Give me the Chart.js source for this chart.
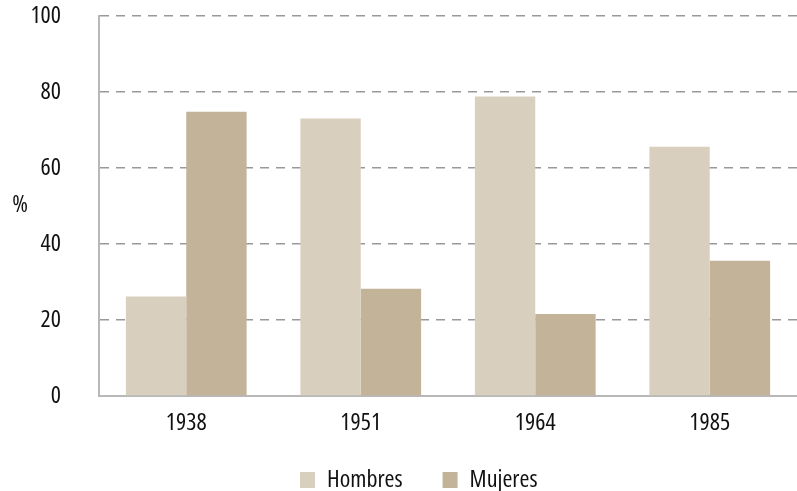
<!DOCTYPE html>
<html>
<head>
<meta charset="utf-8">
<script src="https://cdn.jsdelivr.net/npm/chart.js@4"></script>
<style>
  html, body { margin: 0; padding: 0; background: #ffffff; }
  #wrap { width: 797px; height: 491px; position: relative; }
</style>
</head>
<body>
<div id="wrap"><canvas id="c" width="797" height="491"></canvas></div>
<script>
const categories = ['1938', '1951', '1964', '1985'];
const hombres = [26.2, 73.0, 78.8, 65.6];
const mujeres = [74.8, 28.2, 21.6, 35.6];
const yTicks = [0, 20, 40, 60, 80, 100];
const seriesNames = ['Hombres', 'Mujeres'];
const yUnit = '%';

const FONT = "'Open Sans', 'Roboto Condensed', sans-serif";
const FWEIGHT = '400 condensed';
const FSIZE = 24;
const TXT = '#111111';

const percentLabel = {
  id: 'percentLabel',
  afterDraw(chart) {
    const ctx = chart.ctx;
    const a = chart.chartArea;
    ctx.save();
    ctx.font = FWEIGHT + ' ' + FSIZE + 'px ' + FONT;
    ctx.fillStyle = TXT;
    ctx.textAlign = 'center';
    ctx.textBaseline = 'middle';
    ctx.fillText(yUnit, 20, (a.top + a.bottom) / 2 - 1);
    ctx.restore();
  }
};

const legendShift = {
  id: 'legendShift',
  afterLayout(chart) {
    const l = chart.legend;
    if (!l || !l.lineWidths) return;
    const pad = l.options.labels.padding;
    const cur = (l.left + pad + l.right - l.lineWidths[0]) / 2;
    const d = 300 - cur;
    l.left += d; l.right += d;
    l.top = 428; l.bottom = chart.height; l.height = l.bottom - l.top;
  }
};

new Chart(document.getElementById('c'), {
  type: 'bar',
  data: {
    labels: categories,
    datasets: [
      { label: seriesNames[0], data: hombres, backgroundColor: '#d9cfbe', borderWidth: 0,
        categoryPercentage: 0.692, barPercentage: 1.0 },
      { label: seriesNames[1], data: mujeres, backgroundColor: '#c2b399', borderWidth: 0,
        categoryPercentage: 0.692, barPercentage: 1.0 }
    ]
  },
  options: {
    responsive: false,
    animation: false,
    devicePixelRatio: 1,
    layout: { padding: { top: 16, left: 0, right: -7, bottom: 0 } },
    plugins: {
      tooltip: { enabled: false },
      legend: {
        position: 'bottom',
        maxHeight: 55,
        labels: {
          boxWidth: 15, boxHeight: 16, padding: 40,
          color: TXT,
          font: { family: FONT, size: FSIZE, weight: FWEIGHT }
        }
      }
    },
    scales: {
      x: {
        z: 1,
        afterFit(s) { s.height = 40; },
        grid: { display: false, drawTicks: false },
        border: { display: true, color: '#b8b8b8', width: 2 },
        ticks: { color: TXT, padding: 13, font: { family: FONT, size: FSIZE, weight: FWEIGHT } }
      },
      y: {
        z: 1,
        min: 0, max: 100,
        afterFit(s) { s.width = 99; s.paddingTop = 10; s.paddingBottom = 10; },
        afterBuildTicks(s) { s.ticks = yTicks.map(v => ({ value: v })); },
        grid: {
          drawTicks: false,
          lineWidth: 1.5,
          color: c => (c.tick && c.tick.value === 0) ? 'rgba(0,0,0,0)' : 'rgba(0,0,0,0.4)'
        },
        border: { display: true, color: '#b8b8b8', width: 2, dash: [9, 7] },
        ticks: { color: TXT, padding: 38, font: { family: FONT, size: FSIZE, weight: FWEIGHT } }
      }
    }
  },
  plugins: [percentLabel, legendShift]
});
</script>
</body>
</html>
